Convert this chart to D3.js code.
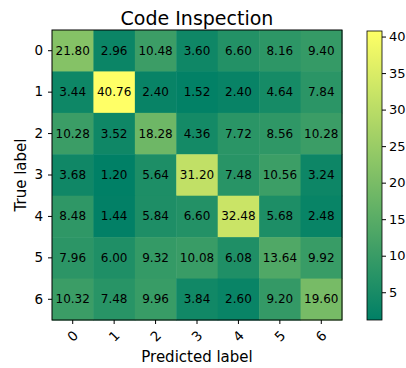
<!DOCTYPE html>
<html>
<head>
<meta charset="utf-8">
<script src="https://cdn.jsdelivr.net/npm/d3@7"></script>
<style>
  html, body { margin: 0; padding: 0; background: #fff; }
  svg { display: block; font-family: "DejaVu Sans", sans-serif; }
</style>
</head>
<body>
<svg id="chart" width="406" height="368"></svg>
<script>
// Confusion matrix values (percent), rows = true label, cols = predicted label
const classLabels = ["0", "1", "2", "3", "4", "5", "6"];
const row0 = [21.80, 2.96, 10.48, 3.60, 6.60, 8.16, 9.40];
const row1 = [3.44, 40.76, 2.40, 1.52, 2.40, 4.64, 7.84];
const row2 = [10.28, 3.52, 18.28, 4.36, 7.72, 8.56, 10.28];
const row3 = [3.68, 1.20, 5.64, 31.20, 7.48, 10.56, 3.24];
const row4 = [8.48, 1.44, 5.84, 6.60, 32.48, 5.68, 2.48];
const row5 = [7.96, 6.00, 9.32, 10.08, 6.08, 13.64, 9.92];
const row6 = [10.32, 7.48, 9.96, 3.84, 2.60, 9.20, 19.60];
const colorbarTicks = [5, 10, 15, 20, 25, 30, 35, 40];

const matrix = [row0, row1, row2, row3, row4, row5, row6];
const cells = [];
matrix.forEach((r, i) => r.forEach((v, j) => cells.push({ row: i, col: j, value: v })));

const all = cells.map(d => d.value);
const vmin = d3.min(all), vmax = d3.max(all);

// matplotlib "summer" colormap
const summer = t => `rgb(${Math.round(255 * t)},${Math.round(255 * (0.5 + 0.5 * t))},${Math.round(255 * 0.4)})`;
const color = v => summer((v - vmin) / (vmax - vmin));

const svg = d3.select("#chart");
const plotLeft = 52, plotTop = 30, size = 290;

const x = d3.scaleBand().domain(classLabels).range([plotLeft, plotLeft + size]);
const y = d3.scaleBand().domain(classLabels).range([plotTop, plotTop + size]);

// heatmap cells
svg.append("g").selectAll("rect").data(cells).join("rect")
  .attr("x", d => x(classLabels[d.col])).attr("y", d => y(classLabels[d.row]))
  .attr("width", x.bandwidth() + 0.5).attr("height", y.bandwidth() + 0.5)
  .attr("fill", d => color(d.value));

// cell values
svg.append("g").selectAll("text").data(cells).join("text")
  .attr("x", d => x(classLabels[d.col]) + x.bandwidth() / 2)
  .attr("y", d => y(classLabels[d.row]) + y.bandwidth() / 2)
  .attr("text-anchor", "middle").attr("dominant-baseline", "central")
  .attr("font-size", 12).attr("fill", "#000")
  .text(d => d.value.toFixed(2));

// frame
svg.append("rect").attr("x", plotLeft).attr("y", plotTop).attr("width", size).attr("height", size)
  .attr("fill", "none").attr("stroke", "#000").attr("stroke-width", 1);

// x axis with labels rotated about their centres
const gx = svg.append("g").attr("transform", `translate(0,${plotTop + size})`)
  .call(d3.axisBottom(x).tickSize(4).tickPadding(3));
gx.select(".domain").remove();
gx.selectAll(".tick text")
  .attr("font-size", 13.5).attr("font-family", "DejaVu Sans")
  .attr("text-anchor", "middle").attr("x", 0).attr("y", 0).attr("dy", "0.35em")
  .attr("transform", "translate(0,16) rotate(-45)");

// y axis
const gy = svg.append("g").attr("transform", `translate(${plotLeft},0)`)
  .call(d3.axisLeft(y).tickSize(4).tickPadding(5));
gy.select(".domain").remove();
gy.selectAll("text").attr("font-size", 13.5).attr("font-family", "DejaVu Sans");

// title and axis labels
svg.append("text").attr("x", plotLeft + size / 2).attr("y", 25).attr("text-anchor", "middle")
  .attr("font-size", 19).text("Code Inspection");
svg.append("text").attr("x", plotLeft + size / 2).attr("y", 362).attr("text-anchor", "middle")
  .attr("font-size", 15).text("Predicted label");
svg.append("text").attr("transform", `translate(26,${plotTop + size / 2}) rotate(-90)`)
  .attr("text-anchor", "middle").attr("font-size", 15).text("True label");

// colorbar
const cbX = 367, cbW = 15, cbTop = 31, cbBot = 320;
const cScale = d3.scaleLinear().domain([vmin, vmax]).range([cbBot, cbTop]);
const grad = svg.append("defs").append("linearGradient").attr("id", "cbgrad")
  .attr("x1", 0).attr("y1", 1).attr("x2", 0).attr("y2", 0);
d3.range(0, 1.0001, 0.05).forEach(t => grad.append("stop").attr("offset", t).attr("stop-color", summer(t)));
svg.append("rect").attr("x", cbX).attr("y", cbTop).attr("width", cbW).attr("height", cbBot - cbTop)
  .attr("fill", "url(#cbgrad)").attr("stroke", "#000").attr("stroke-width", 0.8);
const gc = svg.append("g").attr("transform", `translate(${cbX + cbW},0)`)
  .call(d3.axisRight(cScale).tickValues(colorbarTicks).tickSize(4).tickPadding(3));
gc.select(".domain").remove();
gc.selectAll("text").attr("font-size", 13).attr("font-family", "DejaVu Sans");
</script>
</body>
</html>
